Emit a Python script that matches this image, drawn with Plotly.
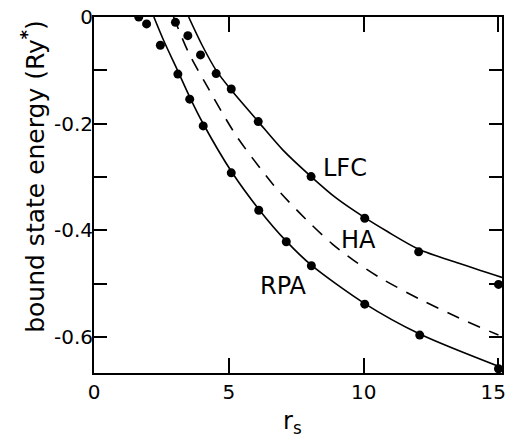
import plotly.graph_objects as go

# Measured data (rs, bound state energy in Ry*)
rpa_pts_rs = [1.66, 1.95, 2.46, 3.11, 3.55, 4.05, 5.09, 6.11, 7.13, 8.06, 10.04, 12.08, 15.0]
rpa_pts_E = [0.0, -0.013, -0.053, -0.107, -0.154, -0.204, -0.292, -0.362, -0.421, -0.466, -0.538, -0.596, -0.659]

lfc_pts_rs = [3.02, 3.48, 3.95, 4.53, 5.09, 6.09, 8.05, 10.04, 12.04, 15.0]
lfc_pts_E = [-0.010, -0.035, -0.071, -0.106, -0.135, -0.196, -0.299, -0.377, -0.440, -0.501]

# Theory curves
rpa_line_rs = [2.22, 2.6, 3.08, 3.55, 4.05, 5.09, 6.11, 7.13, 8.06, 10.04, 12.08, 15.13]
rpa_line_E = [0.0, -0.046, -0.098, -0.150, -0.200, -0.289, -0.360, -0.420, -0.465, -0.537, -0.594, -0.657]

ha_line_rs = [2.95, 3.5, 4.13, 5.27, 6.58, 7.22, 8.02, 8.83, 9.63, 10.59, 12.05, 13.5, 15.0]
ha_line_E = [0.0, -0.066, -0.124, -0.222, -0.310, -0.346, -0.387, -0.425, -0.456, -0.488, -0.528, -0.563, -0.596]

lfc_line_rs = [3.51, 4.0, 4.53, 5.09, 6.09, 7.0, 8.05, 9.0, 10.04, 10.88, 12.04, 13.5, 15.13]
lfc_line_E = [0.0, -0.052, -0.100, -0.137, -0.196, -0.249, -0.299, -0.340, -0.376, -0.402, -0.435, -0.461, -0.488]

x_ticks = [0, 5, 10, 15]
x_ticktext = ["0", "5", "10", "15\u2009\u00a0"]
y_ticks = [0, -0.1, -0.2, -0.3, -0.4, -0.5, -0.6]
y_ticktext = ["0", "", "-0.2", "", "-0.4", "", "-0.6"]

curve_labels = ["LFC", "HA", "RPA"]
label_x = [9.32, 9.79, 7.04]
label_y = [-0.283, -0.417, -0.504]

FONT = "DejaVu Sans"

fig = go.Figure()
line_style = dict(color="black", width=1.6, shape="spline", smoothing=0.8)
fig.add_trace(go.Scatter(x=rpa_line_rs, y=rpa_line_E, mode="lines", line=line_style))
fig.add_trace(go.Scatter(x=lfc_line_rs, y=lfc_line_E, mode="lines", line=line_style))
fig.add_trace(go.Scatter(x=ha_line_rs, y=ha_line_E, mode="lines",
                         line=dict(color="black", width=1.6, dash="13px,10px", shape="spline", smoothing=0.8)))
fig.add_trace(go.Scatter(x=rpa_pts_rs, y=rpa_pts_E, mode="markers",
                         marker=dict(color="black", size=9)))
fig.add_trace(go.Scatter(x=lfc_pts_rs, y=lfc_pts_E, mode="markers",
                         marker=dict(color="black", size=9)))

for t, lx, ly in zip(curve_labels, label_x, label_y):
    fig.add_annotation(x=lx, y=ly, text=t, showarrow=False,
                       font=dict(family=FONT, size=24, color="black"),
                       xanchor="center", yanchor="middle")

fig.add_annotation(xref="paper", yref="paper", x=-0.148, y=0.55,
                   text="bound state energy (Ry<sup><b>*</b></sup>)", textangle=-90,
                   showarrow=False, xanchor="center", yanchor="middle",
                   font=dict(family=FONT, size=25, color="black"))

fig.add_annotation(xref="paper", yref="paper", x=0.486, y=-0.14,
                   text="r<sub>s</sub>", showarrow=False,
                   xanchor="center", yanchor="middle",
                   font=dict(family=FONT, size=24, color="black"))

fig.update_layout(
    width=508, height=438,
    margin=dict(l=94, r=6, t=17, b=65, autoexpand=False),
    paper_bgcolor="white", plot_bgcolor="white",
    showlegend=False,
    font=dict(family=FONT, color="black"),
)
fig.update_xaxes(
    range=[0, 15.13], tickvals=x_ticks, ticktext=x_ticktext, ticks="inside", ticklen=15,
    tickwidth=1.5, tickcolor="black", showline=True, linecolor="black", linewidth=1.8,
    mirror="ticks", showgrid=False, zeroline=False, ticklabeloverflow="allow",
    automargin=False, tickfont=dict(family=FONT, size=20, color="black"),
)
fig.update_yaxes(
    range=[-0.667, 0], tickvals=y_ticks, ticktext=y_ticktext, ticks="inside", ticklen=13,
    tickwidth=1.5, tickcolor="black", showline=True, linecolor="black", linewidth=1.8,
    mirror="ticks", showgrid=False, zeroline=False, ticklabelstandoff=-5,
    automargin=False, tickfont=dict(family=FONT, size=20, color="black"),
)

fig.write_html("out.html", config={"displayModeBar": False},
               post_script="document.body.style.margin='0';document.body.style.overflow='hidden';")
